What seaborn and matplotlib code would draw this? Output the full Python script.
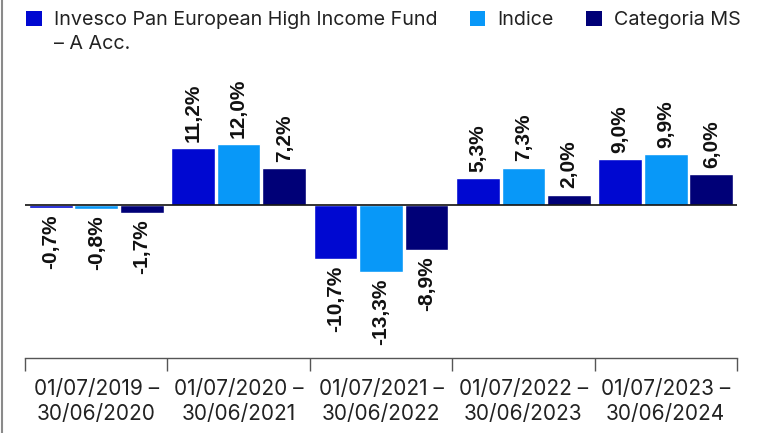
import matplotlib
matplotlib.use("Agg")
import matplotlib.pyplot as plt
import seaborn as sns
import pandas as pd
from matplotlib.patches import Patch
from matplotlib.lines import Line2D

periods = ["01/07/2019 –\n30/06/2020", "01/07/2020 –\n30/06/2021", "01/07/2021 –\n30/06/2022",
           "01/07/2022 –\n30/06/2023", "01/07/2023 –\n30/06/2024"]
series_names = ["Invesco Pan European High Income Fund", "Indice", "Categoria MS"]
fund = [-0.7, 11.2, -10.7, 5.3, 9.0]
index = [-0.8, 12.0, -13.3, 7.3, 9.9]
category = [-1.7, 7.2, -8.9, 2.0, 6.0]
colors = ["#0008d1", "#0898f8", "#000077"]

rows = []
for name, vals in zip(series_names, [fund, index, category]):
    for p, v in zip(periods, vals):
        rows.append({"period": p, "series": name, "value": v})
df = pd.DataFrame(rows)

sns.set_theme(style="white")
plt.rcParams["font.family"] = ["Inter", "DejaVu Sans"]

fig = plt.figure(figsize=(7.57, 4.33), dpi=100)
ax = fig.add_axes([25/757, 1-358/433, (737-25)/757, (358-60)/433])

sns.barplot(data=df, x="period", y="value", hue="series", hue_order=series_names,
            palette=colors, width=0.96, gap=0.04, saturation=1, ax=ax, legend=False)

for cont, vals in zip(ax.containers, [fund, index, category]):
    labels = [f"{v:.1f}%".replace(".", ",") for v in vals]
    ax.bar_label(cont, labels=labels, rotation=90, padding=4.5, fontsize=15,
                 fontweight="bold", family=["Liberation Sans", "DejaVu Sans"], color="#111111")

ax.set_xlim(-0.5, 4.5)
ax.set_ylim(-30.2, 28.5)
ax.axhline(0, color="#111111", lw=1.2, zorder=3)

for s in ["top", "left", "right"]:
    ax.spines[s].set_visible(False)
ax.spines["bottom"].set_color("#555555")
ax.spines["bottom"].set_linewidth(1.0)
ax.set_yticks([])
ax.set_xlabel("")
ax.set_ylabel("")
ax.set_xticks([i - 0.5 for i in range(6)], minor=True)
ax.tick_params(axis="x", which="minor", length=9.4, width=1.0, color="#555555", direction="out", bottom=True)
ax.tick_params(axis="x", which="major", length=0, pad=15, labelsize=15, labelcolor="#222222")
for t in ax.get_xticklabels():
    t.set_linespacing(1.3)

handles = [Patch(facecolor=c, edgecolor="none") for c in colors]
leg = fig.legend(handles, series_names, loc="upper left", bbox_to_anchor=(18/757, 1 - 3/433),
                 ncol=3, frameon=False, fontsize=14.2, handlelength=0.8, handleheight=0.8,
                 handletextpad=0.6, columnspacing=1.65, borderaxespad=0, labelcolor="#222222")
fig.canvas.draw()
tb = leg.get_texts()[0].get_window_extent()
fig.text(tb.x0 / 757, (tb.y0 - 6) / 433, "– A Acc.", fontsize=14.2, color="#222222", va="top", ha="left")

fig.add_artist(Line2D([1.5/757, 1.5/757], [0, 1], color="#8a8a8a", lw=1.5, transform=fig.transFigure))

fig.savefig("out.png", dpi=100)
